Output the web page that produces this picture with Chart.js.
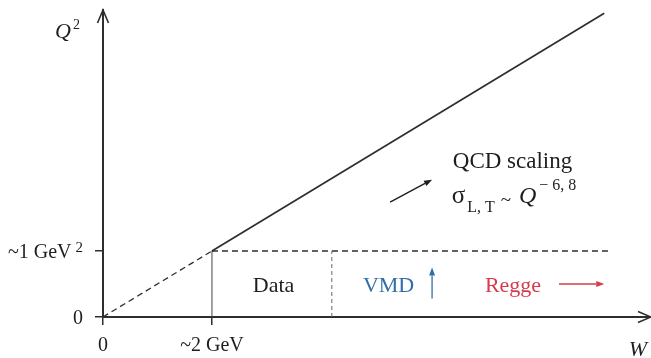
<!DOCTYPE html>
<html>
<head>
<meta charset="utf-8">
<script src="https://cdn.jsdelivr.net/npm/chart.js@4/dist/chart.umd.min.js"></script>
<style>
  html, body { margin: 0; padding: 0; background: #fff; }
  #wrap { width: 651px; height: 358px; }
</style>
</head>
<body>
<div id="wrap"><canvas id="c" width="651" height="358"></canvas></div>
<script>
// Kinematic regions of gamma* p scattering, W in GeV, Q^2 in GeV^2
const extrapolationW = [0, 2];
const extrapolationQ2 = [0, 1];
const scalingW = [2, 9.2];
const scalingQ2 = [1, 4.6];
const thresholdW = [2, 9.3];
const thresholdQ2 = [1, 1];
const dataEdgeW = [2, 2];
const dataEdgeQ2 = [0, 1];
const vmdEdgeW = [4.2, 4.2];
const vmdEdgeQ2 = [0, 1];

const xTickValues = [0, 2];
const xTickLabels = ['0', '~2 GeV'];
const yTickValues = [0, 1];
const yTickLabels = ['0', '~1 GeV^2'];

const INK = '#1e1e1e';
const AXIS = '#2e2e2e';
const BLUE = '#2f6ea6';
const RED = '#d63a4c';
const SERIF = '"Liberation Serif", "DejaVu Serif", serif';

function pts(xs, ys) { return xs.map((x, i) => ({ x: x, y: ys[i] })); }

function font(size, italic) { return (italic ? 'italic ' : '') + size + 'px ' + SERIF; }

// Draws a run of text pieces (normal / italic / raised / lowered) on one baseline
function drawRich(ctx, x, y, parts, align, color) {
  ctx.save();
  ctx.fillStyle = color || INK;
  ctx.textBaseline = 'alphabetic';
  ctx.textAlign = 'left';
  let total = 0;
  parts.forEach(p => { ctx.font = font(p.size, p.italic); total += ctx.measureText(p.t).width + (p.gap || 0); });
  let cx = align === 'right' ? x - total : align === 'center' ? x - total / 2 : x;
  parts.forEach(p => {
    ctx.font = font(p.size, p.italic);
    ctx.fillText(p.t, cx, y + (p.dy || 0));
    cx += ctx.measureText(p.t).width + (p.gap || 0);
  });
  ctx.restore();
}

function labelParts(str, size) {
  const i = str.indexOf('^');
  if (i < 0) return [{ t: str, size: size }];
  return [{ t: str.slice(0, i), size: size, gap: 4 }, { t: str.slice(i + 1), size: 15, dy: -6 }];
}

function arrow(ctx, x1, y1, x2, y2, color, width, len, half) {
  const a = Math.atan2(y2 - y1, x2 - x1);
  const bx = x2 - len * Math.cos(a), by = y2 - len * Math.sin(a);
  ctx.save();
  ctx.strokeStyle = color; ctx.fillStyle = color; ctx.lineWidth = width;
  ctx.beginPath(); ctx.moveTo(x1, y1); ctx.lineTo(bx, by); ctx.stroke();
  ctx.beginPath();
  ctx.moveTo(x2, y2);
  ctx.lineTo(bx + half * Math.sin(a), by - half * Math.cos(a));
  ctx.lineTo(bx - half * Math.sin(a), by + half * Math.cos(a));
  ctx.closePath(); ctx.fill();
  ctx.restore();
}

function chevron(ctx, x, y, dir) {
  ctx.save();
  ctx.strokeStyle = AXIS; ctx.lineWidth = 1.6;
  ctx.beginPath();
  if (dir === 'up') { ctx.moveTo(x - 5.5, y + 13); ctx.lineTo(x, y); ctx.lineTo(x + 5.5, y + 13); }
  else { ctx.moveTo(x - 13, y - 5.5); ctx.lineTo(x, y); ctx.lineTo(x - 13, y + 5.5); }
  ctx.stroke();
  ctx.restore();
}

const overlay = {
  id: 'overlay',
  afterDraw(chart) {
    const ctx = chart.ctx;
    const xs = chart.scales.x, ys = chart.scales.y;
    const px = v => xs.getPixelForValue(v), py = v => ys.getPixelForValue(v);
    const area = chart.chartArea;

    // axis arrow heads
    chevron(ctx, area.left, area.top, 'up');
    chevron(ctx, area.right + 1, area.bottom, 'right');

    // tick labels
    xTickValues.forEach((v, i) => drawRich(ctx, px(v), area.bottom + 34, labelParts(xTickLabels[i], 20), 'center'));
    yTickValues.forEach((v, i) => drawRich(ctx, area.left - 20, py(v) + 7, labelParts(yTickLabels[i], 20), 'right'));

    // axis titles
    drawRich(ctx, area.left - 48, area.top + 28, [{ t: 'Q', size: 22, italic: true, gap: 2 }, { t: '2', size: 14, dy: -9 }], 'left');
    drawRich(ctx, px(9.65), area.bottom + 39, [{ t: 'W', size: 22, italic: true }], 'left');

    // region labels
    drawRich(ctx, px(3.13), py(0.38), [{ t: 'Data', size: 22 }], 'center');
    drawRich(ctx, px(4.77), py(0.38), [{ t: 'VMD', size: 22 }], 'left', BLUE);
    arrow(ctx, px(6.04), py(0.28), px(6.04), py(0.75), BLUE, 1.3, 8, 3);
    drawRich(ctx, px(7.01), py(0.38), [{ t: 'Regge', size: 22 }], 'left', RED);
    arrow(ctx, px(8.37), py(0.5), px(9.2), py(0.5), RED, 1.3, 8, 3);

    drawRich(ctx, px(6.42), py(2.26), [{ t: 'QCD scaling', size: 23 }], 'left');
    drawRich(ctx, px(6.40), py(1.73), [
      { t: 'σ', size: 25, gap: 2 },
      { t: 'L, T', size: 16, dy: 9, gap: 6 },
      { t: '~', size: 19, dy: 3, gap: 8 },
      { t: 'Q', size: 24, italic: true, gap: 3 },
      { t: '− 6, 8', size: 16, dy: -13 }
    ], 'left');
    arrow(ctx, px(5.27), py(1.74), px(6.04), py(2.08), INK, 1.4, 8, 3);
  }
};

const lineDefaults = { showLine: true, pointRadius: 0, pointHoverRadius: 0, fill: false, tension: 0 };

new Chart(document.getElementById('c'), {
  type: 'scatter',
  data: {
    datasets: [
      Object.assign({ label: 'extrapolation', data: pts(extrapolationW, extrapolationQ2), borderColor: AXIS, borderWidth: 1.3, borderDash: [6, 4] }, lineDefaults),
      Object.assign({ label: 'scaling', data: pts(scalingW, scalingQ2), borderColor: AXIS, borderWidth: 1.7 }, lineDefaults),
      Object.assign({ label: 'threshold', data: pts(thresholdW, thresholdQ2), borderColor: AXIS, borderWidth: 1.3, borderDash: [6, 4] }, lineDefaults),
      Object.assign({ label: 'data edge', data: pts(dataEdgeW, dataEdgeQ2), borderColor: '#444', borderWidth: 1 }, lineDefaults),
      Object.assign({ label: 'vmd edge', data: pts(vmdEdgeW, vmdEdgeQ2), borderColor: '#666', borderWidth: 1, borderDash: [4, 3] }, lineDefaults)
    ]
  },
  options: {
    responsive: false,
    animation: false,
    devicePixelRatio: 1,
    layout: { padding: { top: 10, right: 1, left: 0, bottom: 0 } },
    plugins: { legend: { display: false }, tooltip: { enabled: false }, title: { display: false } },
    scales: {
      x: {
        type: 'linear', min: 0, max: 10.04,
        afterBuildTicks: s => { s.ticks = xTickValues.map(v => ({ value: v })); },
        afterFit: s => { s.height = 41; },
        ticks: { display: false },
        grid: { display: true, drawOnChartArea: false, drawTicks: true, tickLength: 8, color: AXIS, lineWidth: 1.5 },
        border: { display: true, color: AXIS, width: 2 }
      },
      y: {
        type: 'linear', min: 0, max: 4.65,
        afterBuildTicks: s => { s.ticks = yTickValues.map(v => ({ value: v })); },
        afterFit: s => { s.width = 103; },
        ticks: { display: false },
        grid: { display: true, drawOnChartArea: false, drawTicks: true, tickLength: 8, color: AXIS, lineWidth: 1.5 },
        border: { display: true, color: AXIS, width: 2 }
      }
    }
  },
  plugins: [overlay]
});
</script>
</body>
</html>
